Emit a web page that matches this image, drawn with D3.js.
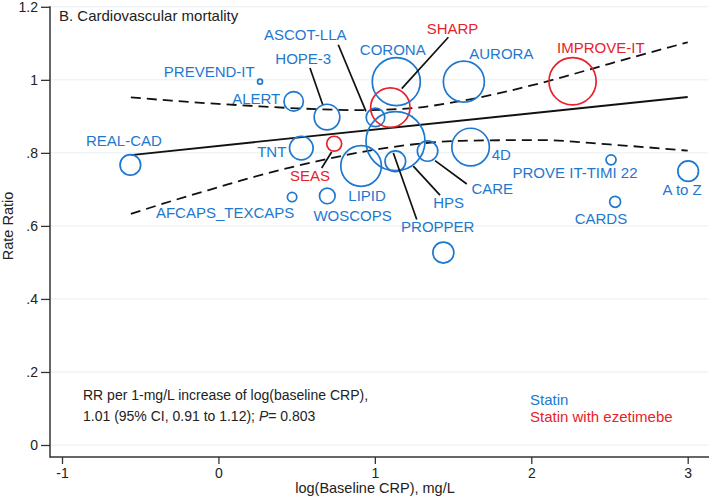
<!DOCTYPE html>
<html>
<head>
<meta charset="utf-8">
<script src="https://cdn.jsdelivr.net/npm/d3@7"></script>
<style>
  html, body { margin: 0; padding: 0; background: #fff; }
  svg { display: block; font-family: "Liberation Sans", Arial, sans-serif; }
</style>
</head>
<body>
<svg id="chart" width="709" height="500"></svg>
<script>
// ---- data ----
const trials = ["REAL-CAD","AFCAPS_TEXCAPS","PREVEND-IT","ALERT","TNT","HOPE-3","WOSCOPS","SEAS","LIPID","ASCOT-LLA","SHARP","PROPPER","HPS","CORONA","CARE","","AURORA","4D","IMPROVE-IT","PROVE IT-TIMI 22","CARDS","A to Z"];
const logCRP = [-0.563,0.471,0.266,0.481,0.530,0.694,0.696,0.740,0.912,1.004,1.099,1.131,1.132,1.137,1.337,1.438,1.569,1.612,2.264,2.510,2.536,3.003];
const rateRatio = [0.767,0.679,0.995,0.941,0.813,0.898,0.682,0.825,0.764,0.897,0.924,0.777,0.832,0.995,0.805,0.527,0.995,0.816,0.996,0.781,0.666,0.750];
const weights = [10.6,2.2,0.6,9.4,13.9,16.4,6.1,5.6,41.2,8.6,38.8,10.6,87.0,57.6,10.4,11.0,42.0,35.3,55.7,2.5,3.0,10.6];
const therapy = ["Statin","Statin","Statin","Statin","Statin","Statin","Statin","Statin with ezetimebe","Statin","Statin","Statin with ezetimebe","Statin","Statin","Statin","Statin","Statin","Statin","Statin","Statin with ezetimebe","Statin","Statin","Statin"];

const fitX = [-0.56, 3.0];
const fitY = [0.794, 0.953];
const ciX = [-0.56, -0.3, 0, 0.2, 0.5, 0.9, 1.2, 1.55, 2.05, 2.5, 3.0];
const ciUpper = [0.952, 0.943, 0.934, 0.929, 0.922, 0.917, 0.921, 0.942, 0.990, 1.044, 1.103];
const ciLower = [0.633, 0.668, 0.706, 0.731, 0.764, 0.801, 0.821, 0.833, 0.835, 0.823, 0.806];

const xTicks = [-1, 0, 1, 2, 3];
const yTicks = [0, 0.2, 0.4, 0.6, 0.8, 1.0, 1.2];
const legendItems = ["Statin", "Statin with ezetimebe"];
const panelTitle = "B. Cardiovascular mortality";
const noteLines = ["RR per 1-mg/L increase of log(baseline CRP),", "1.01 (95% CI, 0.91 to 1.12); ", "P", "= 0.803"];

// ---- label layout (pixel offsets from each circle centre) ----
const labelPos = {
  "REAL-CAD": [-6.4, -18.7], "AFCAPS_TEXCAPS": [-67, 21.3], "PREVEND-IT": [-50.8, -5],
  "ALERT": [-37.5, 3], "TNT": [-29.6, 9.3], "HOPE-3": [-23.7, -53.5], "WOSCOPS": [25.3, 25.5],
  "SEAS": [-24.2, 36.8], "LIPID": [6, 35], "ASCOT-LLA": [-70.2, -77.7], "SHARP": [62.2, -74],
  "PROPPER": [42.4, 71], "HPS": [53.2, 66.7], "CORONA": [-3.5, -26.3], "CARE": [64.7, 43],
  "AURORA": [37.5, -22.3], "4D": [30.7, 12.6], "IMPROVE-IT": [28.3, -28.7],
  "PROVE IT-TIMI 22": [-36, 18.2], "CARDS": [-14.2, 22.6], "A to Z": [-6, 24.3]
};
const leaders = {
  "HOPE-3": [-17, -49.1, -4.3, -12.5], "ASCOT-LLA": [-37.2, -72.7, -9.5, -6],
  "SHARP": [58, -70.3, 11.4, -19], "SEAS": [-12.5, 24.2, -2.5, 8.2],
  "PROPPER": [-2, -8.3, 21.4, 58.3], "HPS": [17.8, 25, 44.5, 54], "CARE": [7.5, 9.6, 39.2, 33]
};

const colors = { "Statin": "#1e78cf", "Statin with ezetimebe": "#e8222b" };

// ---- scales ----
const svg = d3.select("#chart");
const x = d3.scaleLinear().domain([-1, 3]).range([62, 687.7]);
const y = d3.scaleLinear().domain([0, 1.2]).range([445, 6.8]);
const r = d3.scaleSqrt().domain([0, d3.max(weights)]).range([0, 29.5]);
const axisX0 = 50, axisY0 = 457, rightEdge = 708;

// gridlines
svg.append("g").selectAll("line").data(yTicks).join("line")
  .attr("x1", axisX0).attr("x2", rightEdge)
  .attr("y1", d => y(d)).attr("y2", d => y(d))
  .attr("stroke", "#e6eef0").attr("stroke-width", 1);

// axes
const fmtY = d => d === 0 ? "0" : d === 1 ? "1" : d3.format(".1f")(d).replace(/^0/, "");
const gy = svg.append("g").attr("transform", `translate(${axisX0},0)`)
  .call(d3.axisLeft(y).tickValues(yTicks).tickFormat(fmtY).tickSize(9).tickPadding(3));
const gx = svg.append("g").attr("transform", `translate(0,${axisY0})`)
  .call(d3.axisBottom(x).tickValues(xTicks).tickFormat(d3.format("d")).tickSize(7).tickPadding(4));
[gx, gy].forEach(g => {
  g.select(".domain").remove();
  g.selectAll(".tick line").attr("stroke", "#333").attr("stroke-width", 1.3);
  g.selectAll(".tick text").attr("fill", "#222").style("font-size", "14px")
    .style("font-family", '"Liberation Sans", Arial, sans-serif');
});
gx.selectAll(".tick text").text(d => d < 0 ? "-" + Math.abs(d) : d);
svg.append("line").attr("x1", axisX0).attr("x2", axisX0).attr("y1", y(1.2) - 0.6).attr("y2", axisY0 + 0.7)
  .attr("stroke", "#333").attr("stroke-width", 1.5);
svg.append("line").attr("x1", axisX0).attr("x2", 709).attr("y1", axisY0).attr("y2", axisY0)
  .attr("stroke", "#333").attr("stroke-width", 1.5);

// axis titles
svg.append("text").attr("x", 375).attr("y", 493).attr("text-anchor", "middle")
  .style("font-size", "14.5px").attr("fill", "#222").text("log(Baseline CRP), mg/L");
svg.append("text").attr("transform", "translate(13,226) rotate(-90)").attr("text-anchor", "middle")
  .style("font-size", "14.5px").attr("fill", "#222").text("Rate Ratio");

// title
svg.append("text").attr("x", 59).attr("y", 21).style("font-size", "15px").attr("fill", "#222").text(panelTitle);

// fit line and CI
const line = d3.line().x(d => x(d[0])).y(d => y(d[1]));
const ciLine = d3.line().x(d => x(d[0])).y(d => y(d[1])).curve(d3.curveMonotoneX);
svg.append("path").attr("d", line(d3.zip(fitX, fitY))).attr("fill", "none")
  .attr("stroke", "#111").attr("stroke-width", 1.8);
[ciUpper, ciLower].forEach(arr => {
  svg.append("path").attr("d", ciLine(d3.zip(ciX, arr))).attr("fill", "none")
    .attr("stroke", "#111").attr("stroke-width", 1.8).attr("stroke-dasharray", "10,6");
});

// circles
const pts = trials.map((t, i) => ({ t, cx: x(logCRP[i]), cy: y(rateRatio[i]), rr: r(weights[i]), c: colors[therapy[i]] }));
svg.append("g").selectAll("circle").data(pts).join("circle")
  .attr("cx", d => d.cx).attr("cy", d => d.cy).attr("r", d => d.rr)
  .attr("fill", "none").attr("stroke", d => d.c).attr("stroke-width", 1.7);

// leader lines
svg.append("g").selectAll("line").data(pts.filter(d => leaders[d.t])).join("line")
  .attr("x1", d => d.cx + leaders[d.t][0]).attr("y1", d => d.cy + leaders[d.t][1])
  .attr("x2", d => d.cx + leaders[d.t][2]).attr("y2", d => d.cy + leaders[d.t][3])
  .attr("stroke", "#111").attr("stroke-width", 1.7);

// labels
svg.append("g").selectAll("text").data(pts.filter(d => labelPos[d.t])).join("text")
  .attr("x", d => d.cx + labelPos[d.t][0]).attr("y", d => d.cy + labelPos[d.t][1])
  .attr("text-anchor", "middle").style("font-size", "15px").attr("fill", d => d.c).text(d => d.t);

// note
svg.append("text").attr("x", 83).attr("y", 399.5).style("font-size", "14px").attr("fill", "#222").text(noteLines[0]);
const n2 = svg.append("text").attr("x", 83).attr("y", 420.5).style("font-size", "14px").attr("fill", "#222");
n2.append("tspan").text(noteLines[1]);
n2.append("tspan").style("font-style", "italic").text(noteLines[2]);
n2.append("tspan").text(noteLines[3]);

// legend
svg.append("g").selectAll("text").data(legendItems).join("text")
  .attr("x", 530).attr("y", (d, i) => 404.5 + i * 17.5)
  .style("font-size", "15px").attr("fill", d => colors[d]).text(d => d);
</script>
</body>
</html>
